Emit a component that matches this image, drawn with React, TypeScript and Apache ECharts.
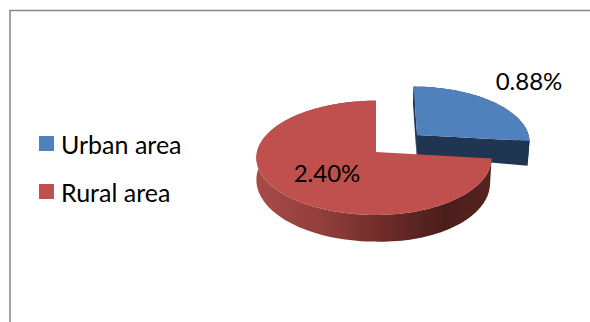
import React, { useEffect, useRef } from "react";
import * as echarts from "echarts";

const categories = ["Urban area", "Rural area"];
const rates = [0.88, 2.4];
const topColors = ["#4f81bd", "#c0504d"];
const wallColors = ["#1f3552", "#4a1d1b"];

const RAD = Math.PI / 180;
const total = rates.reduce((a, b) => a + b, 0);

// Flat disc seen from above with a slight perspective.
const APEX_X = 376;
const APEX_Y = 152;
const RX_LEFT = 119;
const RX_RIGHT = 115;
const RY = 56.5;
const PERSPECTIVE = 0.1023;
const DEPTH = 21.5;
const EXPLODE = 0.47;
const EXPLODE_NUDGE_X = 2;

type Pt = [number, number];

const project = (x: number, y: number, lowered = false): Pt => {
  const w = 1 + PERSPECTIVE * y;
  const rx = x < 0 ? RX_LEFT : RX_RIGHT;
  const right = Math.max(x, 0);
  const sx = APEX_X + (rx * x) / w - (lowered ? 1.5 * right : 0);
  const sy = APEX_Y - (RY * y) / w + (lowered ? DEPTH / (w * w) + 3 * right : 0);
  return [sx, sy];
};

const sliceRange = (index: number): [number, number] => {
  const before = rates.slice(0, index).reduce((a, b) => a + b, 0);
  return [(before / total) * 360, ((before + rates[index]) / total) * 360];
};

const arcWorld = (start: number, end: number, ox: number, oy: number): Pt[] => {
  const out: Pt[] = [];
  const steps = Math.max(2, Math.ceil((end - start) / 2));
  for (let i = 0; i <= steps; i++) {
    const t = (start + ((end - start) * i) / steps) * RAD;
    out.push([ox + Math.sin(t), oy + Math.cos(t)]);
  }
  return out;
};

const labelOffsets: Pt[] = [
  [529, 80.5],
  [327, 172.5],
];

const renderSlice = (index: number) => (_params: unknown, api: any) => {
  const value = api.value(0) as number;
  const [start, end] = sliceRange(index);
  const mid = ((start + end) / 2) * RAD;
  const explode = index === 0 ? EXPLODE : 0;
  const ox = explode * Math.sin(mid);
  const oy = explode * Math.cos(mid);
  const nudge = index === 0 ? EXPLODE_NUDGE_X : 0;
  const place = (x: number, y: number, lowered = false): Pt => {
    const [sx, sy] = project(x, y, lowered);
    return [sx + nudge, sy];
  };
  const rim = arcWorld(start, end, ox, oy);
  const topRim = rim.map((p) => place(p[0], p[1]));
  const lowRim = rim.map((p) => place(p[0], p[1], true));
  const apexTop = place(ox, oy);
  const apexLow = place(ox, oy, true);
  const children: any[] = [];

  const wallFill =
    index === 0
      ? wallColors[0]
      : new echarts.graphic.LinearGradient(0, 0, 1, 0, [
          { offset: 0, color: "#a84b47" },
          { offset: 0.3, color: "#8f3d39" },
          { offset: 0.55, color: "#6d2b28" },
          { offset: 0.8, color: wallColors[1] },
          { offset: 1, color: "#56241f" },
        ]);

  if (index === 0) {
    // Cut faces of the pulled-out slice
    const last = topRim.length - 1;
    children.push({
      type: "polygon",
      shape: { points: [apexTop, topRim[last], lowRim[last], apexLow] },
      style: { fill: wallColors[0] },
    });
    children.push({
      type: "polygon",
      shape: { points: [apexTop, topRim[0], lowRim[0], apexLow] },
      style: { fill: wallColors[0] },
    });
  }
  children.push({
    type: "polygon",
    shape: { points: [...topRim, ...[...lowRim].reverse()] },
    style: { fill: wallFill },
  });
  children.push({
    type: "polygon",
    shape: { points: [apexTop, ...topRim] },
    style: { fill: topColors[index] },
  });
  children.push({
    type: "text",
    style: {
      text: `${value.toFixed(2)}%`,
      x: labelOffsets[index][0],
      y: labelOffsets[index][1],
      fill: "#000000",
      fontFamily: "Lato",
      fontSize: 24,
      align: "center",
      verticalAlign: "middle",
    },
  });
  return { type: "group", children };
};

export default function App() {
  const ref = useRef<HTMLDivElement>(null);

  useEffect(() => {
    document.body.style.margin = "0";
    const chart = echarts.init(ref.current!, null, { renderer: "svg" });
    chart.setOption({
      animation: false,
      backgroundColor: "#ffffff",
      color: topColors,
      legend: {
        orient: "vertical",
        left: 34,
        top: 126,
        itemWidth: 15,
        itemHeight: 15,
        itemGap: 23,
        selectedMode: false,
        icon: "rect",
        data: categories,
        textStyle: { fontFamily: "Lato", fontSize: 25, color: "#000000", padding: [0, 0, 0, 2] },
      },
      graphic: [
        {
          type: "polyline",
          shape: { points: [[10, 322], [10, 10.5], [590, 10.5]] },
          style: { stroke: "#868686", lineWidth: 1.5, fill: "none" },
        },
      ],
      series: categories.map((name, i) => ({
        type: "custom",
        name,
        coordinateSystem: "none",
        itemStyle: { color: topColors[i] },
        silent: true,
        data: [[rates[i]]],
        renderItem: renderSlice(i),
      })),
    });
    return () => chart.dispose();
  }, []);

  return <div ref={ref} style={{ width: 590, height: 322 }} />;
}
